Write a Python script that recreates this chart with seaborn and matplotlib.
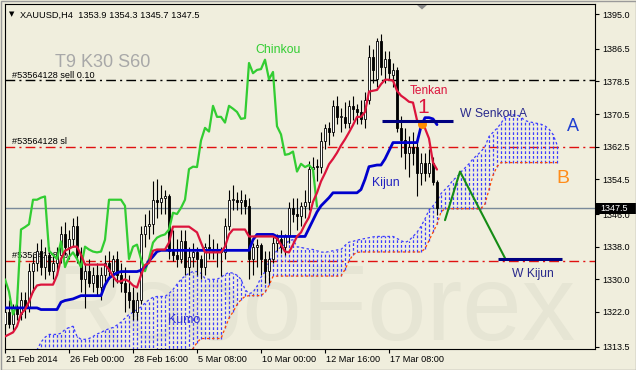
import numpy as np
import pandas as pd
import matplotlib
matplotlib.use("Agg")
import matplotlib.pyplot as plt
import matplotlib.transforms as mtransforms
from matplotlib.patches import Polygon, Rectangle
import seaborn as sns

# ---------------- data ----------------
bar_open = [1319, 1322, 1319, 1323, 1321.5, 1325, 1323, 1332, 1334, 1337,
            1333, 1336, 1332, 1334, 1336, 1341, 1338, 1340, 1343, 1336,
            1330, 1332, 1329, 1331, 1328, 1331, 1334, 1332, 1335, 1331,
            1329, 1327, 1325, 1322, 1325, 1341, 1343, 1343.5, 1349.5, 1349,
            1350, 1350.5, 1337, 1336, 1335, 1339.3, 1333, 1335.5, 1336.6, 1335,
            1333, 1338, 1337.3, 1336.8, 1336.6, 1336.8, 1343, 1349.5, 1349.5, 1349,
            1349.5, 1348, 1335, 1338, 1338.5, 1335, 1332, 1335, 1339, 1340,
            1338, 1340.5, 1347.5, 1346, 1345.5, 1348, 1349, 1357, 1357.6, 1357.5,
            1364, 1367.1, 1366.2, 1372.5, 1369.8, 1369.8, 1368.4, 1372.5, 1371.8, 1371,
            1369.3, 1374, 1384.5, 1379, 1388.5, 1382, 1384, 1380, 1381.3, 1367,
            1364.2, 1361, 1362.5, 1362.5, 1356, 1358.6, 1356, 1358.6, 1353.9]
bar_high = [1323, 1325, 1324, 1326, 1327, 1327, 1334, 1336, 1339, 1340,
            1338, 1338, 1336, 1338, 1343, 1344, 1342, 1345, 1345.5, 1338,
            1334, 1335, 1333, 1334, 1333, 1336, 1337, 1336, 1337, 1334,
            1333, 1331, 1328, 1327, 1343, 1346, 1347, 1354, 1354.5, 1353,
            1352, 1351, 1342, 1340, 1342, 1342, 1338, 1339, 1338, 1336,
            1339, 1341, 1340, 1339, 1338, 1345, 1352, 1353, 1351.5, 1352,
            1351, 1350, 1339, 1340, 1339, 1337, 1337, 1341, 1341, 1342,
            1341, 1349, 1350, 1350, 1349, 1352, 1359, 1360, 1359.5, 1366,
            1368, 1368.5, 1374, 1375, 1372, 1373.5, 1374, 1375, 1373, 1374,
            1376, 1387.4, 1386.5, 1389, 1390, 1386, 1386, 1383, 1382, 1370,
            1367, 1365, 1366, 1364, 1361, 1361, 1362, 1360, 1354.3]
bar_low = [1317, 1318, 1317.5, 1320, 1320, 1320.5, 1322, 1327, 1332, 1331,
           1330, 1331, 1330, 1331, 1334, 1336, 1335, 1338, 1334, 1327,
           1323, 1328, 1327, 1326, 1325, 1329, 1330, 1328, 1329, 1327,
           1322, 1323, 1320, 1320, 1324, 1338, 1340, 1341, 1345, 1346,
           1346, 1335, 1334.5, 1333, 1334, 1331, 1331, 1333, 1331, 1330,
           1331, 1335, 1335, 1333, 1330.7, 1335, 1342, 1347, 1347, 1346,
           1346, 1330, 1331, 1333, 1331, 1329, 1329, 1334, 1337, 1336.5,
           1336, 1339, 1344, 1342, 1343, 1345, 1347, 1355, 1354, 1356,
           1362, 1363, 1365, 1368, 1366, 1367, 1367, 1369, 1368, 1368,
           1367, 1373, 1378, 1377, 1380, 1378, 1379, 1377, 1366, 1360,
           1357, 1355, 1358, 1350.3, 1353, 1354, 1355, 1353, 1345.7]
bar_close = [1322, 1319, 1323, 1321.5, 1325, 1323, 1332, 1334, 1337, 1333,
             1336, 1332, 1334, 1336, 1341, 1338, 1340, 1343, 1336, 1330,
             1332, 1329, 1331, 1328, 1331, 1334, 1332, 1335, 1331, 1329,
             1327, 1325, 1322, 1325, 1341, 1343, 1343.5, 1349.5, 1349, 1350,
             1350.5, 1337, 1336, 1335, 1339.3, 1333, 1335.5, 1336.6, 1335, 1333,
             1338, 1337.3, 1336.8, 1336.6, 1336.8, 1343, 1349.5, 1349.5, 1349, 1349.5,
             1348, 1335, 1338, 1338.5, 1335, 1332, 1335, 1339, 1340.2, 1338,
             1340.5, 1347.5, 1346, 1345.5, 1348, 1349, 1357, 1357.6, 1357.5, 1364,
             1367.1, 1366.2, 1372.5, 1369.8, 1369.8, 1368.4, 1372.5, 1371.8, 1371, 1369.3,
             1374, 1384.5, 1381.3, 1388.5, 1382, 1384, 1380.5, 1381.3, 1367, 1364.2,
             1361, 1362.5, 1361, 1356, 1358.6, 1356, 1358.6, 1353.9, 1347.5]

tenkan = [1316, 1316.5, 1317, 1318.5, 1321.5, 1322.6, 1324.5, 1327, 1328.5, 1328.7,
          1328.7, 1328.7, 1328.7, 1331, 1335, 1337, 1337.5, 1338, 1338, 1336,
          1333.6, 1333.6, 1333.6, 1333.6, 1333.6, 1333.6, 1332.4, 1330.7, 1329.5, 1329.5,
          1330, 1329.5, 1328.5, 1328, 1331, 1333.5, 1334, 1337, 1337.3, 1337.3,
          1337.3, 1339, 1342.9, 1342.9, 1342.9, 1342.9, 1342.9, 1342.2, 1341.5, 1339,
          1336.6, 1336.6, 1336.6, 1336.6, 1336.6, 1338, 1341, 1342.2, 1342.2, 1342.2,
          1342.2, 1340.5, 1340.5, 1340.5, 1340.5, 1340.5, 1340.5, 1340.5, 1340, 1338.5,
          1336.8, 1336.6, 1338.5, 1340.5, 1341.5, 1343.5, 1345.2, 1349, 1351.2, 1354,
          1356, 1358.2, 1359.5, 1361, 1362.8, 1364.3, 1366, 1367.8, 1369.8, 1369.8,
          1371, 1376, 1376.2, 1376.4, 1377.8, 1378.9, 1378.9, 1378.7, 1376.2, 1375,
          1374.3, 1373.5, 1373.3, 1369, 1367.9, 1367, 1364.5, 1358.6, 1356.9]
kijun = [1323, 1323, 1323, 1323, 1323, 1323, 1323, 1323, 1323, 1322.6,
         1322.6, 1322.6, 1322.6, 1322.6, 1324.4, 1324.8, 1325, 1325.2, 1325.6, 1326,
         1326, 1326, 1326, 1326, 1326, 1328.6, 1330.3, 1331, 1331.6, 1331.9,
         1331.9, 1331.9, 1331.9, 1331.9, 1332.2, 1333, 1334.5, 1335.6, 1336.8, 1337.1,
         1337.1, 1337.1, 1337.1, 1337.1, 1337.1, 1337.1, 1337.1, 1337.1, 1337.1, 1337.1,
         1337.1, 1337.1, 1337.1, 1337.1, 1337.1, 1337.1, 1337.1, 1337.1, 1337.1, 1337.1,
         1337.1, 1337.1, 1339.7, 1341, 1341, 1341, 1341, 1341, 1340.5, 1340.5,
         1340.5, 1340.5, 1340.5, 1340.5, 1340.5, 1340.5, 1342.5, 1344.5, 1346.5, 1348,
         1349, 1350, 1351.2, 1351.2, 1351.2, 1351.2, 1351.2, 1351.2, 1351.2, 1352,
         1354.5, 1357.6, 1357.8, 1358, 1358, 1359.5, 1361.5, 1363.5, 1363.5, 1363.5,
         1363.5, 1363.5, 1363.5, 1363.5, 1367.4, 1369.6, 1369.6, 1369.3, 1367.9]
chinkou = [1330, 1327, 1321.4, 1324, 1342.2, 1342.8, 1343.5, 1349.5, 1349.5, 1350,
           1350.3, 1337, 1336, 1335, 1339.3, 1333, 1335.5, 1336.6, 1335, 1333,
           1338, 1337.3, 1336.8, 1336.6, 1336.8, 1339.7, 1349.5, 1349.5, 1349.5, 1349.5,
           1348, 1335, 1338, 1338.5, 1335, 1332, 1335, 1339, 1340.2, 1340.7,
           1341, 1342.2, 1346.3, 1346, 1347.5, 1349.5, 1357, 1357.6, 1357.5, 1364,
           1367.1, 1366.2, 1372.5, 1369.8, 1369.8, 1368.4, 1372.5, 1371.8, 1371, 1369.3,
           1369.5, 1383, 1380.5, 1381.3, 1381.5, 1383.8, 1379, 1380.8, 1367.5, 1365.5,
           1360.5, 1360.7, 1361.3, 1356.4, 1358.3, 1357.5, 1358, 1356.9, 1347.8]
senkou_a = [1309, 1309.5, 1310, 1310.5, 1311, 1311.5, 1312, 1312.3, 1312.7, 1314.6,
            1315.8, 1316.5, 1316.5, 1316.5, 1316.8, 1317.7, 1318.2, 1318.5, 1316, 1315.3,
            1315.3, 1315.5, 1316, 1316.6, 1317, 1317.5, 1317.9, 1318.2, 1318.8, 1319.5,
            1320.5, 1321.4, 1321.9, 1322.6, 1323.2, 1324.2, 1325, 1325.6, 1325.8, 1325.8,
            1325.8, 1326.5, 1327.5, 1328.8, 1330, 1330.8, 1331.5, 1331.9, 1331.9, 1331.5,
            1330.2, 1330, 1330, 1330, 1330.5, 1331.2, 1331.7, 1331.5, 1331, 1330,
            1327.5, 1326.5, 1326.8, 1328.3, 1330.5, 1331.8, 1334.3, 1336, 1337, 1338,
            1338.5, 1339.5, 1339.7, 1338, 1337.8, 1337.6, 1337.4, 1337.3, 1337, 1336.7,
            1336.6, 1336.8, 1337, 1337.2, 1337.3, 1338.3, 1339.1, 1339.3, 1339.6, 1339.8,
            1340, 1340.2, 1340.4, 1340.5, 1340.5, 1340.5, 1340.5, 1340.5, 1340, 1339.5,
            1339, 1339.5, 1340.5, 1341.5, 1343, 1344.8, 1347, 1348, 1349.2, 1351,
            1352, 1353, 1354.3, 1355.1, 1356.3, 1357.3, 1358.3, 1359.5, 1360.4, 1361.3,
            1362.5, 1365, 1366, 1367, 1368.2, 1369.8, 1370.3, 1370.3, 1370.3, 1369.7,
            1368.9, 1368.6, 1368.4, 1368.2, 1368, 1367.6, 1366.8, 1365.5, 1363]
senkou_b = [1310, 1310, 1310, 1310, 1310, 1310, 1310, 1310, 1310, 1310,
            1310, 1310, 1310, 1310, 1310, 1310, 1310, 1310, 1310, 1310,
            1310, 1310, 1310, 1310, 1310, 1310, 1310, 1310, 1310, 1310,
            1310, 1310, 1310.5, 1310.5, 1311, 1311, 1311, 1311, 1311.5, 1311.5,
            1311.5, 1312, 1312, 1312, 1312, 1312, 1312.5, 1313, 1314.5, 1315.5,
            1315.5, 1315.5, 1315.5, 1315.5, 1315.5, 1318, 1320.5, 1322, 1323.8, 1325,
            1325.8, 1326, 1326, 1326, 1326, 1326.8, 1328.5, 1330.7, 1330.8, 1330.8,
            1330.8, 1330.8, 1330.8, 1330.8, 1330.8, 1330.8, 1330.8, 1330.8, 1330.8, 1330.8,
            1330.8, 1330.8, 1330.8, 1330.8, 1330.8, 1332.4, 1334.5, 1336, 1336.6, 1336.7,
            1336.7, 1336.7, 1336.7, 1336.7, 1336.7, 1336.7, 1336.7, 1336.7, 1336.7, 1336.7,
            1336.7, 1336.7, 1336.7, 1336.7, 1336.7, 1337.5, 1339.5, 1341.5, 1343.5, 1346.5,
            1347.3, 1347.3, 1347.3, 1347.3, 1347.3, 1347.3, 1347.3, 1347.3, 1347.3, 1347.3,
            1348.5, 1352, 1355.5, 1357.6, 1358.6, 1358.6, 1358.6, 1358.6, 1358.6, 1358.6,
            1358.6, 1358.6, 1358.6, 1358.6, 1358.6, 1358.6, 1358.6, 1358.6, 1358.6]

x_tick_bars = [0, 16, 32, 48, 64, 80, 96]
x_tick_labels = ["21 Feb 2014", "26 Feb 00:00", "28 Feb 16:00", "5 Mar 08:00",
                 "10 Mar 00:00", "12 Mar 16:00", "17 Mar 08:00"]
y_ticks = [1395.0, 1386.5, 1378.5, 1370.5, 1362.5, 1354.5, 1346.0, 1338.0, 1330.0, 1322.0, 1313.5]

sell_level = 1378.8
sl_level = 1362.4
tp_level = 1334.5
last_price = 1347.5
w_path_x = [110, 113.75, 125]
w_path_y = [1344.5, 1356.4, 1335.2]
w_senkou_x = [94.25, 112]
w_senkou_y = [1368.9, 1368.9]
w_kijun_x = [123.25, 139.25]
w_kijun_y = [1334.9, 1334.9]
mark_x = [104.25]
mark_y = [1368.0]

# ---------------- style ----------------
W, H = 636, 370
BG = "#f0eedd"
sns.set_theme(style="white")
plt.rcParams["font.family"] = ["Liberation Sans", "DejaVu Sans"]

fig = plt.figure(figsize=(W / 100, H / 100), dpi=100, facecolor=BG)
ax = fig.add_axes([4.5 / W, 1 - 349 / H, (595 - 4.5) / W, (349 - 4) / H])
ax.set_facecolor(BG)
ax.set_xlim(-0.125, 147.5)
ax.set_ylim(1312.93, 1397.45)

def fx(px):
    return px / W

def fy(py):
    return 1 - py / H

FT = fig.transFigure

# watermark
ax.text(fx(46), fy(340), "RoboForex", transform=FT, fontsize=77, color="#e6e5d4",
        va="baseline", ha="left", zorder=0.2, family="Liberation Sans")

# trade lines
dd = (0, (7, 3, 1.5, 3))
ax.axhline(sell_level, color="black", lw=1.0, ls=dd, zorder=1.5)
ax.axhline(sl_level, color="#e01010", lw=1.0, ls=dd, zorder=1.5)
ax.axhline(tp_level, color="#e01010", lw=1.0, ls=dd, zorder=1.5)
ax.axhline(last_price, color="#7a8a9a", lw=1.0, zorder=1.5)
for txt, py in [("#53564128 sell 0.10", 77.5), ("#53564128 sl", 144.5), ("#53564128 tp", 258.5)]:
    ax.text(fx(12), fy(py), txt, transform=FT, fontsize=6.6, color="black",
            va="baseline", ha="left", zorder=1.6)

# cloud (vertical dotted hatching between Senkou A and Senkou B)
fut = np.arange(len(senkou_a))
cloud = pd.DataFrame({"bar": fut, "a": senkou_a, "b": senkou_b})
ax.vlines(cloud["bar"], cloud["b"], cloud["a"], colors="#3c3cff", lw=0.9,
          linestyles=(0, (2.2, 1.6)), zorder=2, antialiased=True)
ax.plot(cloud["bar"], cloud["a"], color="#3c3cff", lw=0.9, ls=(0, (2.0, 2.0)), zorder=2.1)
ax.plot(cloud["bar"], cloud["b"], color="#ff4500", lw=0.9, ls=(0, (2.0, 2.0)), zorder=2.1)

# candles
bars = np.arange(len(bar_close))
df = pd.DataFrame({"bar": bars, "open": bar_open, "high": bar_high,
                   "low": bar_low, "close": bar_close})
up = df["close"] >= df["open"]
ax.vlines(df["bar"], df["low"], df["high"], colors="black", lw=0.8, zorder=3)
body_lo = df[["open", "close"]].min(axis=1)
body_h = (df["close"] - df["open"]).abs().clip(lower=0.25)
ax.bar(df["bar"], body_h, bottom=body_lo, width=0.6,
       color=np.where(up, "white", "black"), edgecolor="black", linewidth=0.6, zorder=3.5)

# indicator lines
sns.lineplot(x=np.arange(len(chinkou)), y=chinkou, ax=ax, color="#32cd32", linewidth=1.6, zorder=4)
sns.lineplot(x=bars, y=kijun, ax=ax, color="#0000cd", linewidth=2.0, zorder=4.2)
sns.lineplot(x=bars, y=tenkan, ax=ax, color="#dc143c", linewidth=1.6, zorder=4.4)

# analysis objects
sns.lineplot(x=w_path_x, y=w_path_y, ax=ax, color="#158c15", linewidth=1.5, zorder=5, sort=False)
ax.plot(mark_x, mark_y, "o", color="#ff8c00", markersize=6.5, markeredgewidth=0, zorder=5.2)
ax.plot(w_senkou_x, w_senkou_y, color="#000080", lw=2.2, zorder=5.4, solid_capstyle="butt")
ax.plot(w_kijun_x, w_kijun_y, color="#000080", lw=2.2, zorder=5.4, solid_capstyle="butt")

ax.set_xlabel("")
ax.set_ylabel("")

# labels
def ftext(px, py, s, size, color, **kw):
    fig.text(fx(px), fy(py), s, fontsize=size, color=color, va="baseline", ha="left", **kw)

ftext(55, 67, "T9 K30 S60", 13, "#a8a8a8")
ftext(255, 53, "Chinkou", 8.8, "#32cd32")
ftext(410, 94, "Tenkan", 8.6, "#dc143c")
ftext(417, 113, "1", 15, "#dc143c")
ftext(460, 117, "W Senkou A", 8.7, "#2a2a8c")
ftext(567, 131, "A", 13, "#2040d0")
ftext(556, 183, "B", 14, "#ff8c1a")
ftext(372, 186, "Kijun", 8.8, "#2020c0")
ftext(512, 277, "W Kijun", 8.7, "#2a2a8c")
ftext(168, 323, "Kumo", 9, "#3030d0")
ftext(20, 17.5, "XAUUSD,H4  1353.9 1354.3 1345.7 1347.5", 6.7, "black")
fig.text(fx(9), fy(16.5), "\u25bc", fontsize=5, color="black", va="baseline", ha="left",
         family=["DejaVu Sans"])

# axes ticks
ax.yaxis.tick_right()
ax.set_yticks(y_ticks)
ax.set_yticklabels([f"{v:.1f}" for v in y_ticks])
ax.tick_params(axis="y", direction="out", length=3, width=0.8, pad=2, labelsize=6.5,
               colors="black", right=True, left=False, labelright=True, labelleft=False)
ax.set_xticks(x_tick_bars)
ax.set_xticklabels(x_tick_labels, ha="left")
ax.tick_params(axis="x", direction="out", length=3, width=0.8, pad=1, labelsize=6.6,
               colors="black", bottom=True)
off = mtransforms.ScaledTranslation(0.8 / 72, 0, fig.dpi_scale_trans)
for lab in ax.get_xticklabels():
    lab.set_transform(lab.get_transform() + off)
for sp in ax.spines.values():
    sp.set_color("black")
    sp.set_linewidth(0.8)
    sp.set_visible(True)

# current price box
fig.patches.append(Rectangle((fx(595), fy(214)), 41 / W, 11.3 / H, transform=FT,
                             facecolor="black", edgecolor="none", zorder=2))
fig.text(fx(600), fy(208.5), "1347.5", fontsize=6.5, color="white", va="center", ha="left", zorder=3)

# chart-shift marker and frame
fig.patches.append(Polygon([(fx(417), fy(5)), (fx(427), fy(5)), (fx(422), fy(9.5))],
                           closed=True, transform=FT, facecolor="#8a8a8a", edgecolor="none", zorder=2))
fig.patches.append(Rectangle((0.5 / W, 0.5 / H), (W - 1) / W, (H - 1) / H, transform=FT,
                             facecolor="none", edgecolor="#9a9a9a", lw=1, zorder=2))

fig.savefig("out.png", dpi=100, facecolor=BG)
